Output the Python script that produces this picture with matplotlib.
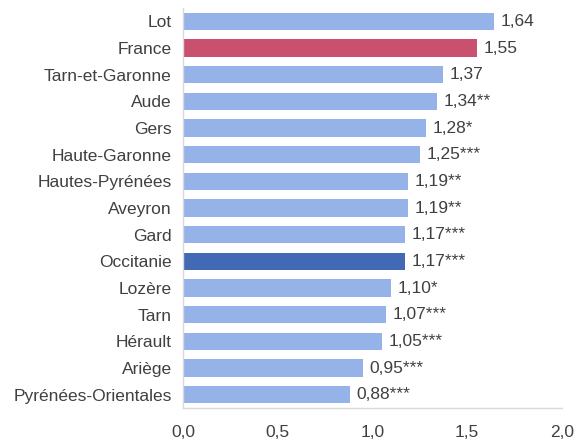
import matplotlib
matplotlib.use("Agg")
import matplotlib.pyplot as plt

plt.rcParams["font.family"] = ["Liberation Sans", "DejaVu Sans"]

# data, top to bottom as in the picture
regions = [
    "Lot", "France", "Tarn-et-Garonne", "Aude", "Gers", "Haute-Garonne",
    "Hautes-Pyrénées", "Aveyron", "Gard", "Occitanie", "Lozère", "Tarn",
    "Hérault", "Ariège", "Pyrénées-Orientales",
]
values = [1.64, 1.55, 1.37, 1.34, 1.28, 1.25, 1.19, 1.19, 1.17, 1.17,
          1.10, 1.07, 1.05, 0.95, 0.88]
stars = ["", "", "", "**", "*", "***", "**", "**", "***", "***",
         "*", "***", "***", "***", "***"]
x_ticks = [0.0, 0.5, 1.0, 1.5, 2.0]

text_color = "#404040"
fs = 12.5
colors = []
for name in regions:
    if name == "France":
        colors.append("#C9506E")
    elif name == "Occitanie":
        colors.append("#4169B4")
    else:
        colors.append("#95B3E8")

fig = plt.figure(figsize=(5.82, 4.42), dpi=100)
ax = fig.add_axes([0.3144, 0.0769, 0.6512, 0.905])

pos = list(range(len(regions)))
ax.barh(pos, values, height=0.64, color=colors)

for p, v, s in zip(pos, values, stars):
    label = f"{v:.2f}".replace(".", ",") + s
    ax.text(v + 0.035, p, label, va="center", ha="left",
            fontsize=fs, color=text_color)

ax.set_yticks(pos)
ax.set_yticklabels(regions, fontsize=fs, color=text_color)
ax.set_ylim(len(regions) - 0.5, -0.5)

ax.set_xlim(0, 2.0)
ax.set_xticks(x_ticks)
ax.set_xticklabels([f"{t:.1f}".replace(".", ",") for t in x_ticks],
                   fontsize=fs, color=text_color)

ax.tick_params(axis="both", length=0)
ax.tick_params(axis="x", pad=12)
ax.tick_params(axis="y", pad=8)

for side in ["top", "right"]:
    ax.spines[side].set_visible(False)
for side in ["left", "bottom"]:
    ax.spines[side].set_color("#D9D9D9")
    ax.spines[side].set_linewidth(1)

fig.savefig("out.png", dpi=100)
